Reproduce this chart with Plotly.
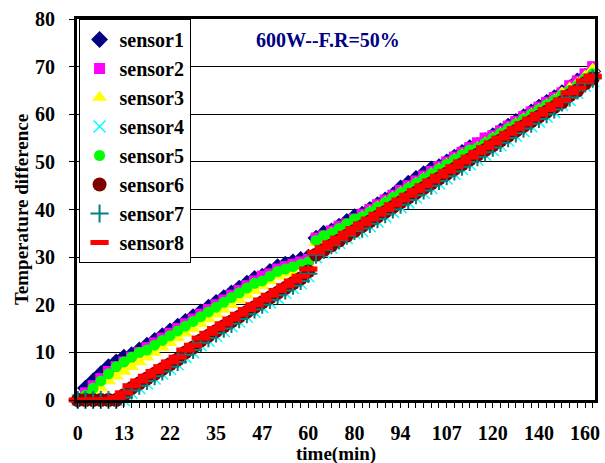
import plotly.graph_objects as go

# category positions shown on the x axis and their labels
tick_labels = ["0", "13", "22", "35", "47", "60", "80", "94", "107", "120", "140", "160"]
n_points = 68
categories = list(range(n_points))
tick_positions = list(range(0, 67, 6))

sensor1 = [0, 2.5, 4, 5.5, 7, 8, 9, 9.5, 10.5, 11.5,
           12.5, 13.5, 14.5, 15.5, 16.5, 17.5, 18.5, 19.5, 20.5, 21.5,
           22.5, 23.5, 24.5, 25.5, 26, 27, 28, 28.5, 29, 29.5,
           30, 34, 35, 35.5, 36.5, 37.5, 38.5, 39, 40, 41,
           42, 43, 44.5, 45.5, 46.5, 47.5, 48.5, 49, 50, 51,
           52, 53, 53.5, 54.5, 55.5, 56.5, 57.5, 58.5, 59.5, 60.5,
           61.5, 62.5, 63.5, 64.5, 65.5, 67, 68, 69]
sensor2 = [0, 1.5, 3, 4.5, 6, 7, 8, 9, 10, 11,
           12, 13, 14, 15, 16, 17, 18, 19, 20, 21,
           22, 23, 24, 25, 26, 26.5, 27.5, 28, 28.5, 29,
           29.5, 34, 34.5, 35.5, 36.5, 37, 38, 39, 40, 41,
           42, 43, 44, 45, 46, 47, 48, 49, 50, 51,
           52, 53, 54, 55, 55.5, 56.5, 57.5, 58.5, 59.5, 60.5,
           61.5, 62.5, 63.5, 64.5, 66, 67, 68.5, 70]
sensor3 = [0, 0.5, 1.5, 2.5, 4, 5, 6, 7, 8, 9,
           10, 11, 12, 13, 14, 15, 16, 17, 18, 19,
           20, 21, 22, 23, 24, 25, 26, 26.5, 27, 28,
           28.5, 33, 34, 35, 35.5, 36.5, 37.5, 38.5, 39.5, 40.5,
           41.5, 42.5, 43.5, 44.5, 45.5, 46.5, 47.5, 48.5, 49.5, 50.5,
           51.5, 52, 53, 54, 55, 56, 57, 58, 59, 60,
           61, 62, 63, 64.5, 65.5, 66.5, 68, 69.5]
sensor4 = [0, 0, 0, 0, 0, 0, 0, 1.5, 2.5, 3.5,
           4.5, 5.5, 6.5, 7.5, 9, 10, 11.5, 12.5, 13.5, 14.5,
           15.5, 16.5, 17.5, 18.5, 19.5, 20.5, 21.5, 22.5, 23.5, 24.5,
           26, 30, 31, 32, 33, 34, 35, 35.5, 36.5, 37.5,
           38.5, 39.5, 40.5, 41.5, 42.5, 43.5, 44.5, 45.5, 46.5, 47.5,
           48.5, 49.5, 50.5, 51.5, 52.5, 53.5, 54.5, 55.5, 56.5, 57.5,
           58.5, 59.5, 60.5, 62, 63, 64.5, 66, 67]
sensor5 = [0, 1, 2.5, 4, 5.5, 7, 8, 9, 10, 10.5,
           11.5, 12.5, 13.5, 14.5, 15.5, 16.5, 17.5, 18.5, 19.5, 20.5,
           21.5, 22.5, 23.5, 24.5, 25, 26, 27, 27.5, 28, 28.5,
           29, 33.5, 34.5, 35, 36, 37, 38, 38.5, 39.5, 40.5,
           41.5, 42.5, 43.5, 44.5, 45.5, 46.5, 47.5, 48.5, 49.5, 50.5,
           51.5, 52.5, 53, 54, 55, 56, 57, 58, 59, 60,
           61, 62, 63, 64, 65, 66, 67.5, 68.5]
sensor6 = [0, 0, 0, 0, 0, 0, 1, 2.5, 3.5, 4.5,
           5.5, 6.5, 7.5, 8.5, 10, 11, 12.5, 13.5, 14.5, 15.5,
           16.5, 17.5, 18.5, 19.5, 20.5, 21.5, 22.5, 23.5, 24.5, 25.5,
           27, 30.5, 31.5, 32.5, 33.5, 34.5, 35.5, 36.5, 37.5, 38.5,
           39.5, 40.5, 41.5, 42.5, 43.5, 44.5, 45.5, 46.5, 47.5, 48.5,
           49.5, 50.5, 51.5, 52.5, 53.5, 54.5, 55.5, 56.5, 57.5, 58.5,
           59.5, 60.5, 61.5, 62.5, 64, 65, 66.5, 67.5]
sensor7 = [0, 0, 0, 0, 0, 0, 0.5, 2, 3, 4,
           5, 6, 7, 8, 9.5, 10.5, 12, 13, 14, 15,
           16, 17, 18, 19, 20, 21, 22, 23, 24, 25,
           26.5, 30.5, 31.5, 32.5, 33.5, 34.5, 35.5, 36, 37, 38,
           39, 40, 41, 42, 43, 44, 45, 46, 47, 48,
           49, 50, 51, 52, 53, 54, 55, 56, 57, 58,
           59, 60, 61, 62.5, 63.5, 65, 66.5, 67.5]
sensor8 = [0, 0, 0, 0, 0, 0.5, 1.5, 3, 4, 5,
           6, 7, 8, 9, 10.5, 11.5, 13, 14, 15, 16,
           17, 18, 19, 20, 21, 22, 23, 24, 25, 26,
           27.5, 31, 32, 33, 34, 35, 36, 37, 38, 39,
           40, 41, 42, 43, 44, 45, 46, 47, 48, 49,
           50, 51, 52, 53, 54, 55, 56, 57, 58, 59,
           60, 61, 62, 63, 64.5, 65.5, 67, 68]

series = [
    ("sensor1", sensor1, dict(symbol="diamond", size=13, color="#000080")),
    ("sensor2", sensor2, dict(symbol="square", size=11, color="#FF00FF")),
    ("sensor3", sensor3, dict(symbol="triangle-up", size=13, color="#FFFF00")),
    ("sensor4", sensor4, dict(symbol="x-thin", size=12, color="#00FFFF",
                              line=dict(color="#00FFFF", width=1.5))),
    ("sensor5", sensor5, dict(symbol="circle", size=11, color="#00FF00")),
    ("sensor6", sensor6, dict(symbol="circle", size=14, color="#800000")),
    ("sensor7", sensor7, dict(symbol="cross-thin", size=13, color="#008080",
                              line=dict(color="#008080", width=2))),
    ("sensor8", sensor8, dict(symbol="line-ew", size=13, color="#FF0000",
                              line=dict(color="#FF0000", width=5))),
]

FONT = "'Liberation Serif', 'Times New Roman', Times, serif"

fig = go.Figure()
for i, (name, vals, mk) in enumerate(series):
    fig.add_trace(go.Scatter(
        x=categories, y=vals, name=name, mode="markers",
        marker=mk, cliponaxis=False, legendgroup=f"g{i}",
    ))

fig.update_layout(
    width=605, height=463,
    margin=dict(l=77, r=5, t=19, b=63),
    paper_bgcolor="white", plot_bgcolor="white",
    font=dict(family=FONT, size=20, color="black"),
    showlegend=True,
    legend=dict(
        x=0.003, y=1, xanchor="left", yanchor="top",
        bgcolor="white", bordercolor="black", borderwidth=1,
        font=dict(family=FONT, size=20, color="black", weight="bold"),
        tracegroupgap=0, itemwidth=30,
    ),
    annotations=[
        dict(text="<b>600W--F.R=50%</b>", x=0.485, y=0.945, xref="paper", yref="paper",
             xanchor="center", yanchor="middle", showarrow=False,
             font=dict(family=FONT, size=20, color="#000080")),
        dict(text="<b>time(min)</b>", x=0.5, y=-0.142, xref="paper", yref="paper",
             xanchor="center", yanchor="middle", showarrow=False,
             font=dict(family=FONT, size=19, color="black")),
    ],
)

fig.update_xaxes(
    range=[-0.1, 67.3],
    tickmode="array", tickvals=tick_positions, ticktext=tick_labels,
    tickfont=dict(family=FONT, size=20, color="black", weight="bold"),
    ticks="outside", ticklen=5, tickcolor="black", tickwidth=1,
    minor=dict(dtick=1, tick0=0, ticks="outside", ticklen=5, tickcolor="black", tickwidth=1),
    ticklabelstandoff=8,
    showgrid=False, zeroline=False,
    showline=True, linecolor="black", linewidth=3, mirror=True,
)
fig.update_yaxes(
    range=[0, 80], dtick=10,
    tickfont=dict(family=FONT, size=20, color="black", weight="bold"),
    ticks="outside", ticklen=5, tickcolor="black", tickwidth=1,
    ticklabelstandoff=10,
    showgrid=True, gridcolor="black", gridwidth=1, zeroline=False,
    showline=True, linecolor="black", linewidth=3, mirror=True,
    title=dict(text="<b>Temperature difference</b>", font=dict(family=FONT, size=19), standoff=2),
)

fig.write_html("out.html")
